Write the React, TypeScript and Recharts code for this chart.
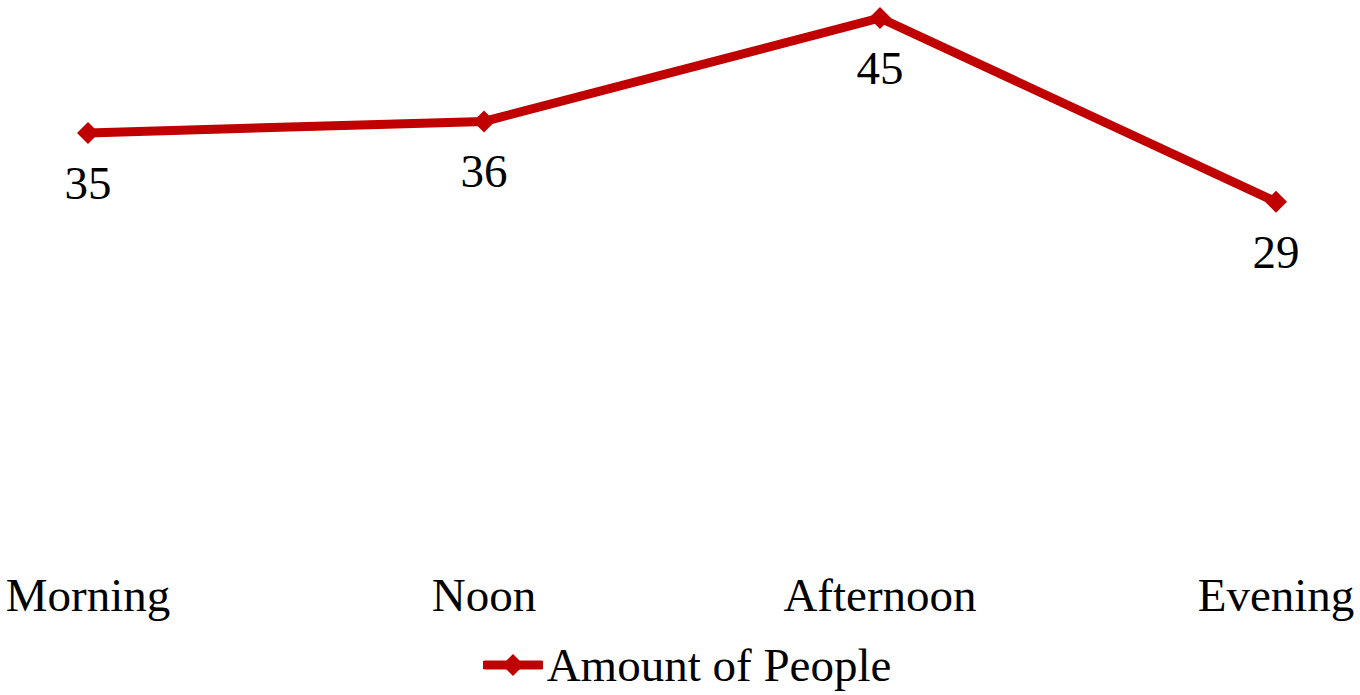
import React from 'react';
import { LineChart, Line, XAxis, YAxis, Legend, LabelList } from 'recharts';

const categories = ['Morning', 'Noon', 'Afternoon', 'Evening'];
const amountOfPeople = [35, 36, 45, 29];
const seriesName = 'Amount of People';

const data = categories.map((name, i) => ({ name, value: amountOfPeople[i] }));

const RED = '#C00000';
const FONT = '"Liberation Serif", "Times New Roman", serif';

function Diamond(props: any) {
  const { cx, cy } = props;
  if (cx == null || cy == null) return null;
  const r = 11;
  return (
    <path
      key={`d-${cx}`}
      d={`M${cx - r},${cy} L${cx},${cy - r} L${cx + r},${cy} L${cx},${cy + r} Z`}
      fill={RED}
    />
  );
}

function ValueLabel(props: any) {
  const { x, y, value } = props;
  return (
    <text x={x} y={y + 66} textAnchor="middle" fontFamily={FONT} fontSize={47} fill="#000">
      {value}
    </text>
  );
}

function CategoryTick(props: any) {
  const { x, y, payload } = props;
  return (
    <text x={x} y={y + 76} textAnchor="middle" fontFamily={FONT} fontSize={47} fill="#000">
      {payload.value}
    </text>
  );
}

function LegendContent() {
  return (
    <div
      style={{
        height: 60,
        display: 'flex',
        alignItems: 'center',
        justifyContent: 'center',
        paddingLeft: 14,
        fontFamily: FONT,
        fontSize: 47,
        color: '#000',
      }}
    >
      <svg width={60} height={24} style={{ marginRight: 4 }}>
        <line x1={2} y1={12} x2={58} y2={12} stroke={RED} strokeWidth={9} strokeLinecap="round" />
        <path d="M19,12 L30,1 L41,12 L30,23 Z" fill={RED} />
      </svg>
      <span>{seriesName}</span>
    </div>
  );
}

export default function App() {
  return (
    <div style={{ position: 'absolute', left: 0, top: 0, background: '#fff' }}>
      <LineChart width={1360} height={695} data={data} margin={{ top: 18, right: 0, left: 0, bottom: 0 }}>
        <XAxis
          dataKey="name"
          axisLine={false}
          tickLine={false}
          tickSize={0}
          tickMargin={0}
          height={100}
          padding={{ left: 88, right: 84 }}
          tick={<CategoryTick />}
          interval={0}
        />
        <YAxis hide domain={[0, 45]} />
        <Legend verticalAlign="bottom" height={60} content={<LegendContent />} />
        <Line
          dataKey="value"
          name={seriesName}
          stroke={RED}
          strokeWidth={9}
          dot={<Diamond />}
          activeDot={false}
          isAnimationActive={false}
        >
          <LabelList dataKey="value" content={<ValueLabel />} />
        </Line>
      </LineChart>
    </div>
  );
}
